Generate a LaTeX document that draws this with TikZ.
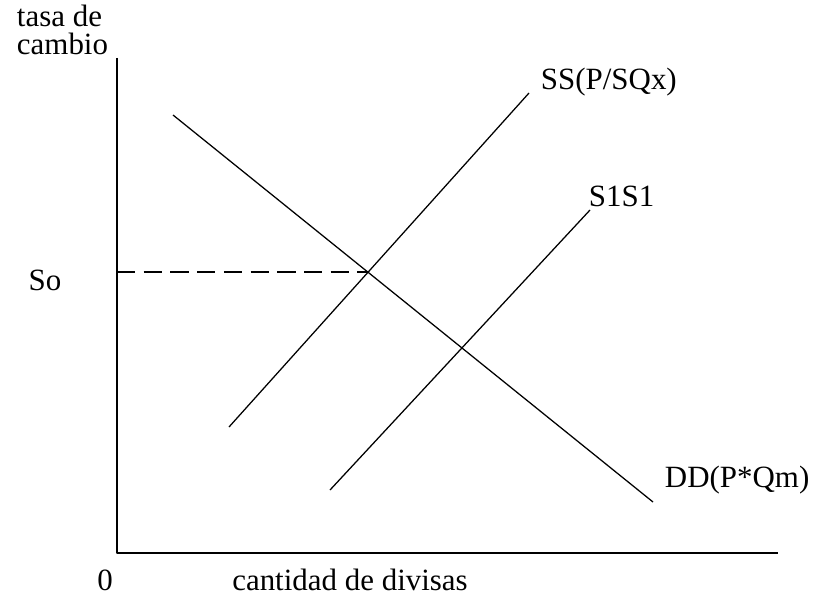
\documentclass[tikz,border=0pt]{standalone}
\usepackage{fontspec}
\setmainfont{Liberation Serif}
\begin{document}
\begin{tikzpicture}[x=0.025cm,y=-0.025cm,line join=round,line cap=butt,font=\fontsize{22}{24}\selectfont]
	\useasboundingbox (0,0) rectangle (819,597);
	\coordinate (O) at (117,553);
	\coordinate (Ytop) at (117,58);
	\coordinate (Xend) at (778,553);
	\coordinate (E0) at (368,272);
	\draw[line width=2.1pt] (Ytop) -- (O) -- (Xend);
	\draw[line width=0.9pt] (173,115) coordinate (DDa) -- (653,502) coordinate (DDb);
	\draw[line width=0.9pt] (229,427) coordinate (SSa) -- (529,93) coordinate (SSb);
	\draw[line width=0.9pt] (330,490) coordinate (S1a) -- (590,210) coordinate (S1b);
	\draw[line width=1.4pt,dash pattern=on 13pt off 6pt] (117,272) coordinate (Yso) -- (E0);
	\node[anchor=west] (tasa) at (12,16) {tasa de};
	\node[anchor=west] (cambio) at (12,44) {cambio};
	\node (so) at (45,280) {So};
	\node[anchor=base] (cero) at (105,590) {0};
	\node[anchor=base] (cant) at (350,590) {cantidad de divisas};
	\node[anchor=west] (sslab) at (536,82) {SS(P/SQx)};
	\node[anchor=west] (s1lab) at (584,196) {S1S1};
	\node[anchor=west] (ddlab) at (660,480) {DD(P*Qm)};
\end{tikzpicture}
\end{document}
